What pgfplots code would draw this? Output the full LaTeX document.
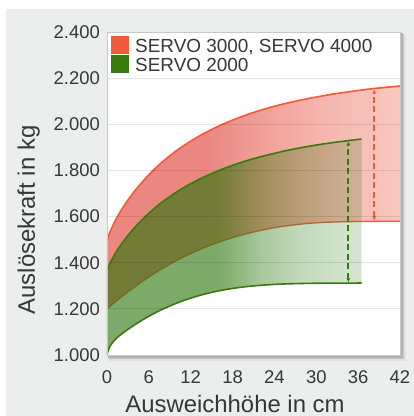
\documentclass[border=0pt]{standalone}
\usepackage{pgfplots}
\pgfplotsset{compat=1.18}
\usepackage{pgfplotstable}
\usetikzlibrary{arrows.meta,fadings}
\usepackage{fontspec}
\setmainfont{Liberation Sans}

\definecolor{bgcol}{RGB}{236,238,237}
\definecolor{txt}{RGB}{55,55,55}
\definecolor{framecol}{RGB}{200,200,200}
\definecolor{redline}{RGB}{240,90,56}
\definecolor{greenline}{RGB}{58,122,12}
\definecolor{greenfill}{RGB}{38,115,5}
\definecolor{legred}{RGB}{241,90,58}
\definecolor{leggreen}{RGB}{58,122,10}

% red band: dark on the left, fading to pink on the right
\pgfdeclarehorizontalshading{redband}{100bp}{%
  rgb(0bp)=(0.914,0.529,0.502); rgb(41.7bp)=(0.914,0.529,0.502);
  rgb(53.6bp)=(0.949,0.647,0.616); rgb(65.5bp)=(0.965,0.737,0.706);
  rgb(75bp)=(0.973,0.780,0.749); rgb(100bp)=(0.973,0.780,0.749)}
% green band opacity
\pgfdeclarehorizontalshading{gfadeshade}{100bp}{%
  rgb(0bp)=(0.6,0.6,0.6); rgb(46.9bp)=(0.6,0.6,0.6);
  rgb(55.1bp)=(0.4,0.4,0.4); rgb(62.9bp)=(0.27,0.27,0.27);
  rgb(70.2bp)=(0.21,0.21,0.21); rgb(75bp)=(0.19,0.19,0.19);
  rgb(100bp)=(0.19,0.19,0.19)}
\pgfdeclarefading{gfade}{\pgfuseshading{gfadeshade}}

% SERVO 3000/4000
\pgfplotstableread{
x y
0 1497
0.25 1519
0.5 1538
1 1571.5
1.5 1600
2 1626
3 1671.5
4 1712
5 1748
6 1781
7 1811
8 1838.5
10 1886.5
12 1927
14 1962
16 1992
18 2018
20 2041
22 2060.5
24 2078
26 2093
28 2106.5
30 2118
32 2129
34 2138
36 2146.5
38 2154
40 2160
42 2166
}\ru
\pgfplotstableread{
x y
0 1200
0.25 1206.5
0.5 1213
1 1226
1.5 1238
2 1250
3 1274
4 1296
5 1318
6 1338
7 1358
8 1376
10 1410
12 1440
14 1466
16 1489
18 1509
20 1526
22 1540
24 1552
26 1561
28 1568
30 1573
32 1576
34 1577.5
36 1578.5
38 1579
40 1579.5
42 1580
}\rl
% band outline: upper forward, lower backward
\pgfplotstableread{
x y
0 1497
0.25 1519
0.5 1538
1 1571.5
1.5 1600
2 1626
3 1671.5
4 1712
5 1748
6 1781
7 1811
8 1838.5
10 1886.5
12 1927
14 1962
16 1992
18 2018
20 2041
22 2060.5
24 2078
26 2093
28 2106.5
30 2118
32 2129
34 2138
36 2146.5
38 2154
40 2160
42 2166
42 1580
40 1579.5
38 1579
36 1578.5
34 1577.5
32 1576
30 1573
28 1568
26 1561
24 1552
22 1540
20 1526
18 1509
16 1489
14 1466
12 1440
10 1410
8 1376
7 1358
6 1338
5 1318
4 1296
3 1274
2 1250
1.5 1238
1 1226
0.5 1213
0.25 1206.5
0 1200
}\rband

% SERVO 2000
\pgfplotstableread{
x y
0 1365
0.25 1384
0.5 1401
1 1430
1.5 1455.5
2 1478
3 1518
4 1553.5
5 1585
6 1614
7 1641
8 1664.5
10 1707
12 1742.5
14 1773
16 1799
18 1822
20 1842
22 1859
24 1874
26 1888
28 1899.5
30 1910
32 1919
34 1927
36 1934.5
36.5 1936
}\gu
\pgfplotstableread{
x y
0 1000
0.1 1011.5
0.25 1025
0.5 1041.5
1 1062
1.5 1076.5
2 1089
3 1111
4 1131.5
5 1150.5
6 1168
7 1184
8 1199
10 1225
12 1246.5
14 1264
16 1278
18 1288.5
20 1296.5
22 1302
24 1306
26 1308.5
28 1310
30 1311
32 1311.5
34 1311.5
36.5 1312
}\gl
\pgfplotstableread{
x y
0 1365
0.25 1384
0.5 1401
1 1430
1.5 1455.5
2 1478
3 1518
4 1553.5
5 1585
6 1614
7 1641
8 1664.5
10 1707
12 1742.5
14 1773
16 1799
18 1822
20 1842
22 1859
24 1874
26 1888
28 1899.5
30 1910
32 1919
34 1927
36 1934.5
36.5 1936
36.5 1312
34 1311.5
32 1311.5
30 1311
28 1310
26 1308.5
24 1306
22 1302
20 1296.5
18 1288.5
16 1278
14 1264
12 1246.5
10 1225
8 1199
7 1184
6 1168
5 1150.5
4 1131.5
3 1111
2 1089
1.5 1076.5
1 1062
0.5 1041.5
0.25 1025
0.1 1011.5
0 1000
}\gband

\begin{document}
\begin{tikzpicture}
\path[use as bounding box] (-107bp,-61bp) rectangle (307bp,355bp);
\fill[bgcol] (-101bp,-61bp) rectangle (307bp,346bp);
% frame shadow
\fill[black!12] (2bp,-5.5bp) rectangle (298.5bp,320bp);
\fill[black!22] (1.5bp,-4bp) rectangle (297bp,321bp);
\fill[black!30] (1bp,-2.5bp) rectangle (295.5bp,322bp);

\begin{axis}[
  at={(0,0)}, anchor=south west,
  scale only axis, width=293bp, height=323bp,
  xmin=0, xmax=42, ymin=1000, ymax=2400,
  xtick={0,6,...,42}, ytick={1000,1200,...,2400},
  ymajorgrids, grid style={draw=black, draw opacity=0.1, line width=0.9bp},
  major tick length=0pt,
  axis line style={draw=framecol, line width=0.9bp},
  axis background/.style={fill=white},
  axis on top,
  tick label style={font=\fontsize{18.5}{20}\selectfont, text=txt},
  xticklabel style={anchor=base, yshift=-28bp},
  yticklabel style={anchor=east, inner xsep=0pt, xshift=-7bp},
  /pgf/number format/1000 sep={.},
  /pgf/number format/assume math mode=true,
]
\addplot[shade, shading=redband, draw=none] table {\rband};
\addplot[redline, line width=1.6bp, smooth] table {\ru};
\addplot[redline, line width=1.3bp, smooth] table {\rl};

\addplot[fill=greenfill, draw=none, path fading=gfade] table {\gband};
\addplot[greenline, line width=1.6bp, smooth] table {\gu};
\addplot[greenline, line width=1.6bp, smooth] table {\gl};

\addplot[redline, line width=1.6bp, dash pattern=on 6bp off 3.5bp,
  {Latex[length=4bp,width=4bp]}-{Latex[length=4bp,width=4bp]}]
  coordinates {(38.3,1583) (38.3,2151)};
\addplot[greenline, line width=1.8bp, dash pattern=on 6bp off 3.5bp,
  {Latex[length=4bp,width=4bp]}-{Latex[length=4bp,width=4bp]}]
  coordinates {(34.6,1315) (34.6,1926)};
\end{axis}

% legend
\fill[legred] (4bp,301bp) rectangle (22bp,319bp);
\fill[leggreen] (4bp,282bp) rectangle (22bp,299.5bp);
\node[anchor=base west, inner sep=0pt, text=txt, font=\fontsize{19}{21}\selectfont]
  at (28bp,302.5bp) {SERVO 3000, SERVO 4000};
\node[anchor=base west, inner sep=0pt, text=txt, font=\fontsize{19}{21}\selectfont]
  at (28bp,283.3bp) {SERVO 2000};

% axis labels
\node[anchor=base, inner sep=0pt, text=txt, font=\fontsize{24}{26}\selectfont]
  at (128bp,-57.5bp) {Ausweichhöhe in cm};
\node[anchor=base, rotate=90, inner sep=0pt, text=txt, font=\fontsize{24}{26}\selectfont]
  at (-72bp,135bp) {Auslösekraft in kg};
\end{tikzpicture}
\end{document}
